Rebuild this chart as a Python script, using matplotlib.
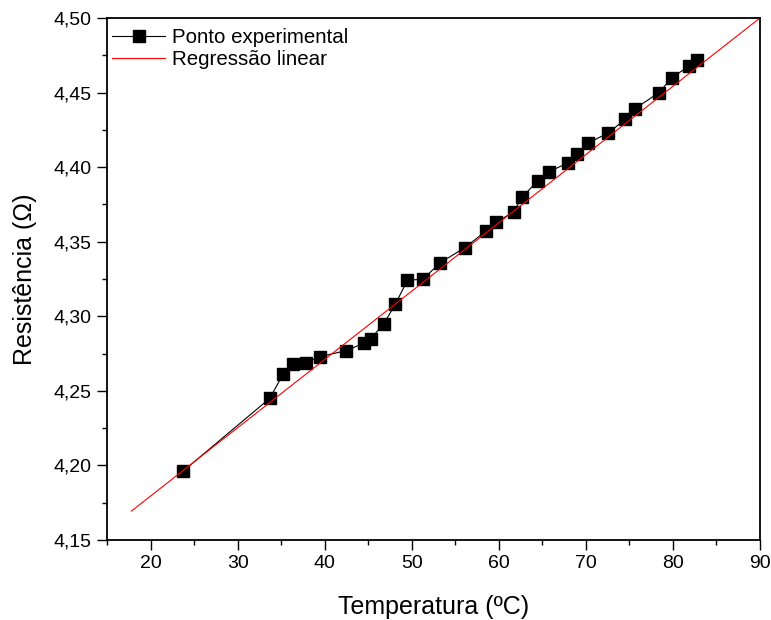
import numpy as np
import matplotlib.pyplot as plt
from matplotlib.ticker import MultipleLocator, FuncFormatter

plt.rcParams['font.family'] = ['Liberation Sans', 'DejaVu Sans']

temperatura = [23.7, 33.7, 35.2, 36.4, 37.9, 39.5, 42.5, 44.5, 45.3, 46.8,
               48.1, 49.5, 51.3, 53.3, 56.1, 58.5, 59.7, 61.7, 62.7, 64.5,
               65.8, 68.0, 69.0, 70.2, 72.6, 74.5, 75.6, 78.4, 79.9, 81.9, 82.8]
resistencia = [4.196, 4.245, 4.261, 4.268, 4.269, 4.273, 4.277, 4.282, 4.285, 4.295,
               4.308, 4.324, 4.325, 4.336, 4.346, 4.357, 4.363, 4.370, 4.380, 4.391,
               4.397, 4.403, 4.409, 4.416, 4.423, 4.432, 4.439, 4.450, 4.460, 4.468, 4.472]

# extremos da reta de regressão
reta_x = [17.8, 90.0]
reta_y = [4.1694, 4.500]

fig = plt.figure(figsize=(7.71, 6.2), dpi=100)
ax = fig.add_axes([0.1388, 0.129, 0.8469, 0.842])

ax.plot(temperatura, resistencia, 'k-s', lw=0.8, ms=8, label='Ponto experimental')
ax.plot(reta_x, reta_y, color='red', lw=0.8, label='Regressão linear')

ax.set_xlim(15, 90)
ax.set_ylim(4.15, 4.50)
ax.xaxis.set_major_locator(MultipleLocator(10))
ax.xaxis.set_minor_locator(MultipleLocator(5))
ax.yaxis.set_major_locator(MultipleLocator(0.05))
ax.yaxis.set_minor_locator(MultipleLocator(0.025))
ax.xaxis.set_major_formatter(FuncFormatter(lambda v, p: '' if v < 20 else f'{v:.0f}'))
ax.yaxis.set_major_formatter(FuncFormatter(lambda v, p: f'{v:.2f}'.replace('.', ',')))

ax.tick_params(which='major', direction='out', length=7, width=1.0, labelsize=14, pad=4)
ax.tick_params(which='minor', direction='out', length=3.5, width=1.0)
for s in ax.spines.values():
    s.set_linewidth(1.3)

ax.set_xlabel('Temperatura (ºC)', fontsize=18, labelpad=16)
ax.set_ylabel('Resistência (Ω)', fontsize=18, labelpad=12)

ax.legend(loc='upper left', frameon=False, fontsize=14.8, handlelength=2.6,
          handletextpad=0.34, borderaxespad=0, borderpad=0, labelspacing=0.17,
          bbox_to_anchor=(0.0077, 0.981))

fig.savefig('out.png', dpi=100)
